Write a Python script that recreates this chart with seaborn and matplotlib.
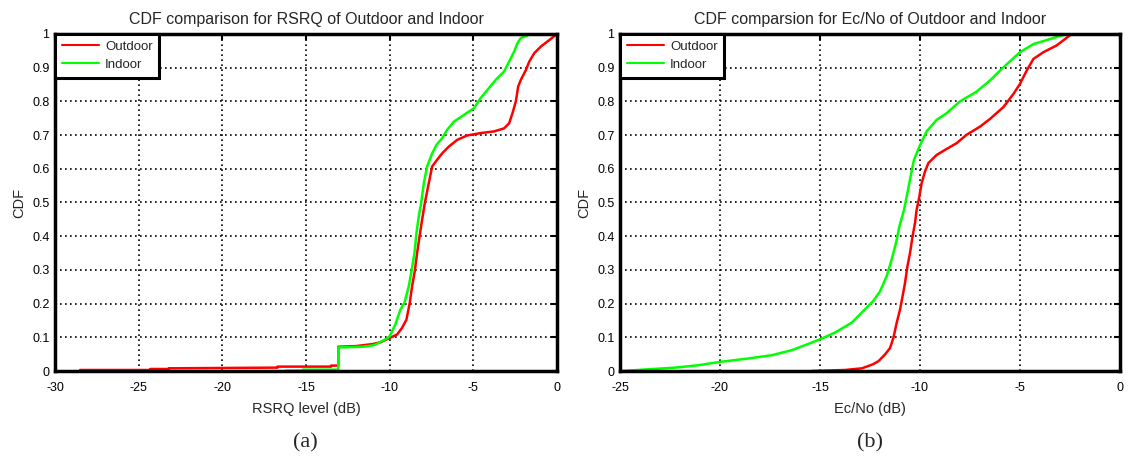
import numpy as np
import pandas as pd
import matplotlib
matplotlib.use("Agg")
import matplotlib.pyplot as plt
import seaborn as sns

# ---- RSRQ (dB) empirical CDF breakpoints ----
rsrq_out_x = [-28.5, -24.3, -24.3, -23.2, -23.2, -20.0, -16.7, -16.7, -13.5, -13.5,
              -13.07, -13.07, -12.0, -11.0, -10.5, -10.0, -9.56, -9.26, -9.0, -8.8,
              -8.66, -8.5, -8.36, -8.2, -8.06, -7.9, -7.7, -7.46, -7.16, -6.86,
              -6.46, -5.96, -5.36, -4.56, -3.76, -3.16, -2.86, -2.66, -2.46, -2.32,
              -2.16, -1.86, -1.66, -1.36, -0.96, -0.46, 0.0]
rsrq_out_cdf = [0.003, 0.003, 0.006, 0.006, 0.008, 0.009, 0.010, 0.013, 0.013, 0.016,
                0.016, 0.072, 0.074, 0.080, 0.086, 0.098, 0.108, 0.128, 0.152, 0.202,
                0.251, 0.296, 0.350, 0.404, 0.449, 0.498, 0.548, 0.607, 0.627, 0.646,
                0.666, 0.686, 0.699, 0.706, 0.711, 0.720, 0.735, 0.765, 0.800, 0.844,
                0.864, 0.893, 0.918, 0.943, 0.963, 0.982, 1.0]

rsrq_in_x = [-16.2, -15.2, -15.2, -13.07, -13.07, -11.6, -11.0, -10.78, -10.56, -10.18,
             -10.0, -9.66, -9.36, -9.12, -8.86, -8.66, -8.52, -8.4, -8.26, -8.12,
             -7.96, -7.76, -7.46, -7.2, -6.86, -6.56, -6.16, -5.56, -4.96, -4.56,
             -4.16, -3.66, -3.16, -2.86, -2.56, -2.36, -2.16, -1.66, -1.16, -0.86]
rsrq_in_cdf = [0.001, 0.001, 0.004, 0.004, 0.070, 0.072, 0.076, 0.080, 0.086, 0.096,
               0.103, 0.138, 0.182, 0.202, 0.251, 0.306, 0.350, 0.409, 0.459, 0.498,
               0.557, 0.607, 0.646, 0.671, 0.691, 0.716, 0.740, 0.760, 0.780, 0.810,
               0.834, 0.864, 0.889, 0.918, 0.948, 0.973, 0.988, 0.998, 1.0, 1.0]

# ---- Ec/No (dB) empirical CDF breakpoints ----
ecno_out_x = [-15.4, -13.75, -12.9, -12.35, -12.08, -11.75, -11.5, -11.33, -11.17, -11.0,
              -10.87, -10.75, -10.63, -10.5, -10.37, -10.25, -10.17, -10.03, -9.92, -9.75,
              -9.58, -9.17, -8.75, -8.17, -7.67, -7.0, -6.5, -5.83, -5.33, -5.0,
              -4.67, -4.33, -3.83, -3.17, -2.75, -2.42, -1.67]
ecno_out_cdf = [0.0, 0.003, 0.008, 0.020, 0.029, 0.049, 0.068, 0.098, 0.142, 0.182,
                0.222, 0.261, 0.310, 0.350, 0.400, 0.439, 0.478, 0.518, 0.557, 0.592,
                0.617, 0.641, 0.656, 0.676, 0.701, 0.725, 0.748, 0.783, 0.822, 0.852,
                0.891, 0.926, 0.946, 0.966, 0.985, 1.0, 1.0]

ecno_in_x = [-24.9, -23.6, -22.25, -21.1, -20.0, -18.6, -17.4, -16.4, -15.6, -15.0,
             -14.25, -13.4, -12.75, -12.35, -12.0, -11.67, -11.42, -11.2, -11.03, -10.8,
             -10.63, -10.47, -10.3, -10.03, -9.67, -9.17, -8.67, -8.0, -7.17, -6.5,
             -5.83, -5.0, -4.33, -3.5, -2.83, -2.5]
ecno_in_cdf = [0.0, 0.005, 0.010, 0.017, 0.027, 0.037, 0.047, 0.062, 0.080, 0.094,
               0.114, 0.144, 0.183, 0.207, 0.236, 0.281, 0.330, 0.380, 0.429, 0.478,
               0.528, 0.577, 0.627, 0.666, 0.711, 0.745, 0.765, 0.800, 0.829, 0.862,
               0.901, 0.946, 0.970, 0.985, 0.997, 1.0]

series_names = ["Outdoor", "Indoor"]
titles = ["CDF comparison for RSRQ of Outdoor and Indoor",
          "CDF comparsion for Ec/No of Outdoor and Indoor"]
xlabels = ["RSRQ level (dB)", "Ec/No (dB)"]
panel_tags = ["(a)", "(b)"]
x_limits = [(-30, 0), (-25, 0)]
x_ticks = [[-30, -25, -20, -15, -10, -5, 0], [-25, -20, -15, -10, -5, 0]]
y_ticks = [0, 0.1, 0.2, 0.3, 0.4, 0.5, 0.6, 0.7, 0.8, 0.9, 1]


def long_frame(out_x, out_y, in_x, in_y):
    a = pd.DataFrame({"x": out_x, "cdf": out_y, "env": "Outdoor"})
    b = pd.DataFrame({"x": in_x, "cdf": in_y, "env": "Indoor"})
    return pd.concat([a, b], ignore_index=True)


frames = [long_frame(rsrq_out_x, rsrq_out_cdf, rsrq_in_x, rsrq_in_cdf),
          long_frame(ecno_out_x, ecno_out_cdf, ecno_in_x, ecno_in_cdf)]

sns.set_style("white")
plt.rcParams["font.family"] = ["Liberation Sans", "DejaVu Sans"]
plt.rcParams["axes.unicode_minus"] = False

palette = {"Outdoor": "#ff0000", "Indoor": "#00ff00"}

fig = plt.figure(figsize=(11.28, 4.61), dpi=100)
axes_rects = [[55 / 1128, 90 / 461, 502 / 1128, 337 / 461],
              [620 / 1128, 90 / 461, 500 / 1128, 337 / 461]]
tag_x = [305 / 1128, 870 / 1128]

for i in range(2):
    ax = fig.add_axes(axes_rects[i])
    sns.lineplot(data=frames[i], x="x", y="cdf", hue="env", hue_order=series_names,
                 palette=palette, estimator=None, sort=False,
                 linewidth=1.8, ax=ax)
    ax.set_xlim(*x_limits[i])
    ax.set_ylim(0, 1)
    ax.set_xticks(x_ticks[i])
    ax.set_xticklabels([f"{v:g}" for v in x_ticks[i]])
    ax.set_yticks(y_ticks)
    ax.set_yticklabels([f"{v:g}" for v in y_ticks])
    ax.grid(True, color="black", linestyle=(0, (1, 2)), linewidth=1.2)
    ax.set_axisbelow(True)
    for s in ax.spines.values():
        s.set_visible(True)
        s.set_color("black")
        s.set_linewidth(2.5)
    ax.tick_params(axis="both", which="both", direction="in", length=4, width=1.5,
                   top=True, right=True, labelsize=9, colors="black")
    ax.tick_params(axis="x", pad=8)
    ax.tick_params(axis="y", pad=4)
    ax.set_title(titles[i], fontsize=11.5, pad=7)
    ax.set_xlabel(xlabels[i], fontsize=10.5, labelpad=6)
    ax.set_ylabel("CDF", fontsize=10.5, labelpad=4)
    leg = ax.legend(loc="upper left", borderaxespad=0, fontsize=9.5, frameon=True,
                    fancybox=False, framealpha=1.0, handlelength=2.8,
                    handletextpad=0.5, borderpad=0.5, labelspacing=0.45)
    leg.get_frame().set_edgecolor("black")
    leg.get_frame().set_linewidth(2.2)
    for h in leg.get_lines():
        h.set_linewidth(1.5)
    fig.text(tag_x[i], 1 - 443 / 461, panel_tags[i], ha="center", va="center",
             fontsize=16, family=["Liberation Serif", "DejaVu Serif"])

fig.savefig("out.png", dpi=100)
